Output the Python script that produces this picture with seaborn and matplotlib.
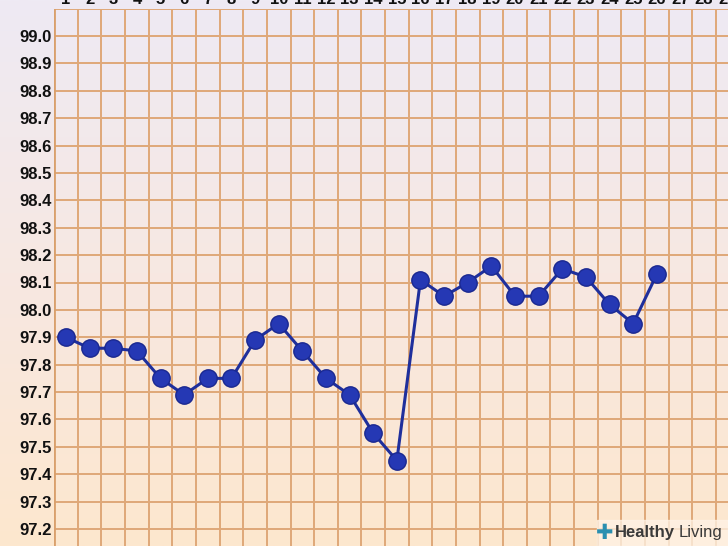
import numpy as np
import pandas as pd
import matplotlib.pyplot as plt
from matplotlib.colors import LinearSegmentedColormap
import seaborn as sns

days = list(range(1, 27))
temps = [97.90, 97.86, 97.86, 97.85, 97.75, 97.69, 97.75, 97.75, 97.89, 97.95,
         97.85, 97.75, 97.69, 97.55, 97.45, 98.11, 98.05, 98.10, 98.16, 98.05,
         98.05, 98.15, 98.12, 98.02, 97.95, 98.13]
day_labels = [str(d) for d in range(1, 30)]
temp_ticks = np.round(np.arange(97.2, 99.01, 0.1), 1)

sns.set_style("white")
plt.rcParams['font.family'] = ['Liberation Sans', 'DejaVu Sans']

fig = plt.figure(figsize=(7.28, 5.46), dpi=100)

# soft lavender -> peach background over the whole picture
bg = fig.add_axes([0, 0, 1, 1], zorder=0)
grad = np.linspace(0, 1, 256).reshape(-1, 1)
cmap = LinearSegmentedColormap.from_list("bg", ["#EEEAF4", "#F7E8E2", "#FDE7CE"])
bg.imshow(grad, aspect="auto", cmap=cmap, extent=[0, 1, 0, 1], origin="upper")
bg.set_axis_off()

ax = fig.add_axes([54.2 / 728, -10.4 / 546, 685.3 / 728, 547.8 / 546], zorder=1)
ax.patch.set_alpha(0)

df = pd.DataFrame({"day": days, "temp": temps})
sns.lineplot(data=df, x="day", y="temp", ax=ax, color="#1F2F9C", linewidth=2.2,
             marker="o", markersize=12.5, markerfacecolor="#2538B4",
             markeredgecolor="#1A2890", markeredgewidth=1.0, zorder=5)

ax.set_xlim(0.5, 29.5)
ax.set_ylim(97.1, 99.1)

ax.set_xticks(range(1, 30))
ax.set_xticklabels(day_labels)
ax.set_xticks(np.arange(0.5, 29.6, 1), minor=True)
ax.set_yticks(np.round(np.arange(97.1, 99.11, 0.1), 1))
ax.set_yticklabels([""] + [f"{t:.1f}" for t in temp_ticks] + [""])

ax.xaxis.tick_top()
ax.tick_params(axis="x", which="major", length=0, pad=1, labelsize=12,
               labelcolor="#111111")
ax.tick_params(axis="y", which="major", length=0, pad=2, labelsize=12,
               labelcolor="#111111")
ax.tick_params(which="minor", length=0)
for lab in ax.get_xticklabels() + ax.get_yticklabels():
    lab.set_fontweight("bold")

ax.grid(False)
ax.grid(True, axis="x", which="minor", color="#DFA878", linewidth=1.4)
ax.grid(True, axis="y", which="major", color="#DFA878", linewidth=1.4)
for s in ax.spines.values():
    s.set_visible(False)
ax.axvline(0.5, color="#D9A06C", linewidth=2.0, zorder=2)
ax.set_xlabel("")
ax.set_ylabel("")

# watermark
fig.patches.append(plt.Rectangle((597 / 728, 0), 131 / 728, 26 / 546,
                                 transform=fig.transFigure, color="#FFF3E6",
                                 alpha=0.75, zorder=9))
fig.text(0.819, 0.024, "\u271a", color="#2A8FB0", fontsize=15,
         ha="left", va="center", family=["DejaVu Sans"], zorder=10)
fig.text(0.845, 0.024, "Healthy", color="#3A3A3A", fontsize=12,
         fontweight="bold", ha="left", va="center", zorder=10)
fig.text(0.992, 0.024, "Living", color="#3A3A3A", fontsize=12,
         ha="right", va="center", zorder=10)

fig.savefig("out.png", dpi=100)
